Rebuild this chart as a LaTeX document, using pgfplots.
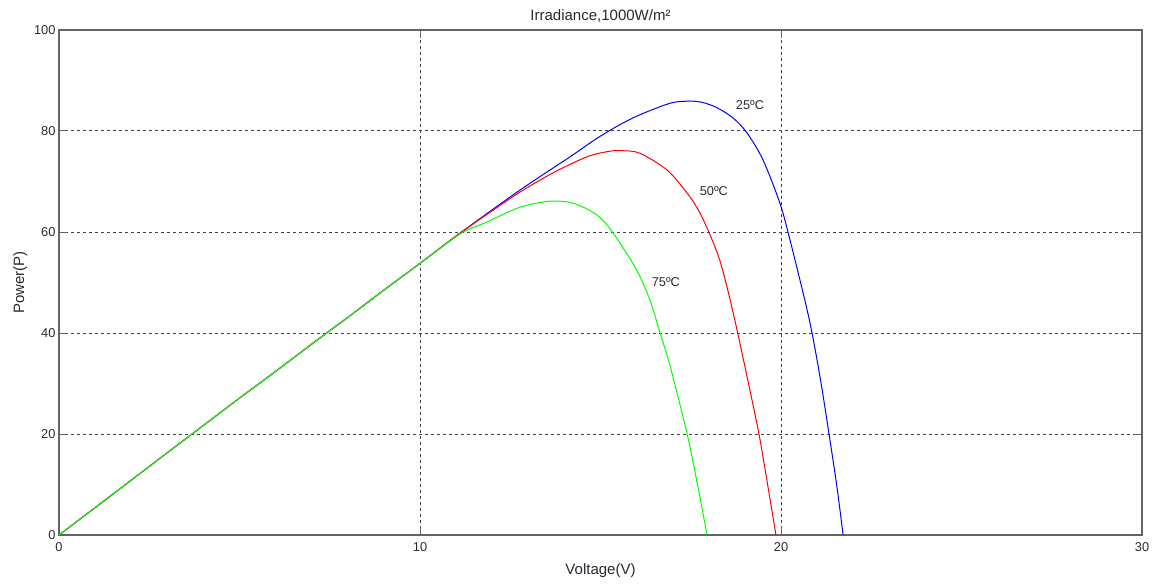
\documentclass[border=0pt]{standalone}
\usepackage{pgfplots}
\pgfplotsset{compat=1.18}
\usepackage{fontspec}
\setmainfont{Liberation Sans}
\definecolor{axisgray}{RGB}{100,100,100}
\definecolor{ticktext}{RGB}{40,40,50}

\begin{document}
\begin{tikzpicture}
\begin{axis}[
  scale only axis, width=1083pt, height=505pt,
  xmin=0, xmax=30, ymin=0, ymax=100,
  xtick={0,10,20,30}, ytick={0,20,40,60,80,100},
  tick align=inside, major tick length=8pt,
  tick style={axisgray, line width=1pt},
  axis line style={axisgray, line width=1.4pt},
  grid=major,
  major grid style={black!75, line width=1pt, dash pattern=on 3pt off 3pt},
  /pgf/number format/assume math mode=true,
  ticklabel style={font=\fontsize{12.8}{14}\selectfont, text=ticktext},
  xticklabel style={yshift=-4pt},
  title={Irradiance,1000W/m²},
  title style={font=\fontsize{15}{17}\selectfont, text=ticktext, yshift=-2pt},
  xlabel={Voltage(V)}, ylabel={Power(P)},
  xlabel style={yshift=-5pt},
  label style={font=\fontsize{15}{17}\selectfont, text=ticktext},
  every axis plot/.append style={line width=1pt, no marks, smooth},
]
% 25 C
\addplot[blue] coordinates {
(0,0) (1,5.42) (2,10.85) (3,16.3) (4,21.7) (5,27.1) (6,32.4) (7,37.8) (8,43.1) (9,48.5) (10,53.8) (11,59.2)
(12,64.4) (12.77,68.3) (13.5,71.8) (14.16,74.9) (15,79.0) (15.9,82.6) (16.93,85.5) (17.48,85.9) (17.8,85.7)
(18.2,84.7) (18.67,82.6) (19.06,79.6) (19.5,74.3) (19.97,65.7) (20.25,58.4) (20.66,46.5) (20.86,40)
(21.1,30.5) (21.33,20) (21.55,9.5) (21.72,0)};
% 50 C
\addplot[red] coordinates {
(0,0) (1,5.42) (2,10.85) (3,16.3) (4,21.7) (5,27.1) (6,32.4) (7,37.8) (8,43.1) (9,48.5) (10,53.8) (11,59.2)
(12,64.2) (12.77,67.9) (13.68,71.7) (14.63,74.9) (15.26,76.0) (15.6,76.1) (16.09,75.6) (16.84,72.3)
(17.4,67.7) (17.7,64.5) (18.0,60) (18.3,54.5) (18.56,47.5) (18.8,40) (19.07,31.0) (19.39,20) (19.64,9.5) (19.86,0)};
% 75 C
\addplot[green] coordinates {
(0,0) (1,5.42) (2,10.85) (3,16.3) (4,21.7) (5,27.1) (6,32.4) (7,37.8) (8,43.1) (9,48.5) (10,53.8) (10.5,56.5)
(11.2,60.0) (11.86,62.0) (12.77,64.9) (13.6,66.1) (14.24,65.7) (14.9,63.4) (15.35,59.8)
(16.0,52.5) (16.37,46.5) (16.65,40) (16.93,33.4) (17.4,20) (17.7,9.5) (17.95,0)};
\node[font=\fontsize{12.8}{14}\selectfont, text=ticktext] at (axis cs:19.14,85.1) {25ºC};
\node[font=\fontsize{12.8}{14}\selectfont, text=ticktext] at (axis cs:18.14,68.1) {50ºC};
\node[font=\fontsize{12.8}{14}\selectfont, text=ticktext] at (axis cs:16.81,50.1) {75ºC};
\end{axis}
\pgfresetboundingbox
\path[use as bounding box] ([shift={(-59pt,-48pt)}]current axis.south west) rectangle ([shift={(16pt,30pt)}]current axis.north east);
\end{tikzpicture}
\end{document}
